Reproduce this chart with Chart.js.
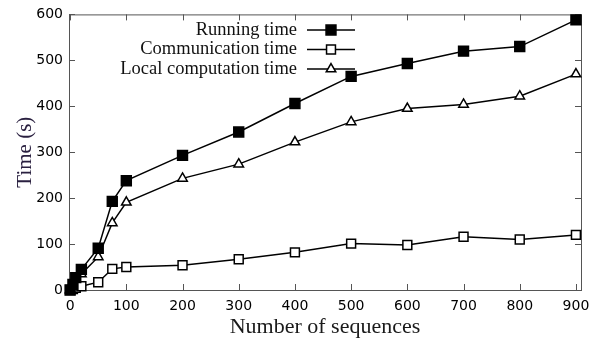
<!DOCTYPE html>
<html>
<head>
<meta charset="utf-8">
<script src="https://cdn.jsdelivr.net/npm/chart.js@4.4.0/dist/chart.umd.min.js"></script>
<style>
  body { margin: 0; background: #fff; }
  #wrap { width: 601px; height: 344px; }
</style>
</head>
<body>
<div id="wrap"><canvas id="timeChart"></canvas></div>
<script>
const sequences = [0, 5, 10, 20, 50, 75, 100, 200, 300, 400, 500, 600, 700, 800, 900];
const runningTime = [0, 12, 27, 45, 91, 193, 238, 293, 344, 406, 465, 493, 520, 530, 588];
const commTime = [0, 2, 5, 8, 17, 46, 50, 54, 67, 82, 101, 98, 116, 110, 120];
const localTime = [0, 8, 20, 35, 72, 146, 191, 243, 274, 322, 366, 395, 404, 422, 470];
const xTicks = [0, 100, 200, 300, 400, 500, 600, 700, 800, 900];
const yTicks = [0, 100, 200, 300, 400, 500, 600];

const pts = ys => sequences.map((x, i) => ({ x: x, y: ys[i] }));

// gnuplot-ish frame with inward ticks + legend with text left of the symbol
const framePlugin = {
  id: 'frame',
  beforeDatasetsDraw(chart) {
    const { ctx, chartArea: a, scales } = chart;
    ctx.save();
    ctx.strokeStyle = '#555';
    ctx.lineWidth = 1;
    ctx.strokeRect(a.left + 0.5, a.top + 0.5, a.right - a.left, a.bottom - a.top);
    ctx.beginPath();
    xTicks.forEach(v => {
      const px = Math.round(scales.x.getPixelForValue(v)) + 0.5;
      ctx.moveTo(px, a.bottom); ctx.lineTo(px, a.bottom - 6);
      ctx.moveTo(px, a.top); ctx.lineTo(px, a.top + 6);
    });
    yTicks.forEach(v => {
      const py = Math.round(scales.y.getPixelForValue(v)) + 0.5;
      ctx.moveTo(a.left, py); ctx.lineTo(a.left + 6, py);
      ctx.moveTo(a.right, py); ctx.lineTo(a.right - 6, py);
    });
    ctx.stroke();
    ctx.restore();
  },
  afterDraw(chart) {
    const { ctx } = chart;
    ctx.save();
    chart.data.datasets.forEach((ds, i) => {
      const y = 30 + i * 19.5;
      ctx.font = '18.5px "Liberation Serif"';
      ctx.fillStyle = '#111';
      ctx.textAlign = 'right';
      ctx.textBaseline = 'middle';
      ctx.fillText(ds.label, 297, y);
      ctx.strokeStyle = '#000';
      ctx.lineWidth = 1.5;
      ctx.beginPath();
      ctx.moveTo(307, y); ctx.lineTo(355, y);
      ctx.stroke();
      ctx.fillStyle = ds.pointBackgroundColor;
      ctx.strokeStyle = '#000';
      ctx.lineWidth = 1.5;
      Chart.helpers.drawPoint(ctx, { pointStyle: ds.pointStyle, radius: ds.pointRadius, borderWidth: 1.5 }, 331, y);
    });
    ctx.restore();
  }
};

new Chart(document.getElementById('timeChart').getContext('2d'), {
  type: 'scatter',
  data: {
    datasets: [{
      label: 'Running time',
      data: pts(runningTime),
      showLine: true,
      borderColor: '#000',
      borderWidth: 1.5,
      pointStyle: 'rect',
      pointRadius: 7,
      pointBackgroundColor: '#000',
      pointBorderColor: '#000',
      pointBorderWidth: 1.5,
      clip: false
    }, {
      label: 'Communication time',
      data: pts(commTime),
      showLine: true,
      borderColor: '#000',
      borderWidth: 1.5,
      pointStyle: 'rect',
      pointRadius: 6.3,
      pointBackgroundColor: '#fff',
      pointBorderColor: '#000',
      pointBorderWidth: 1.5,
      clip: false
    }, {
      label: 'Local computation time',
      data: pts(localTime),
      showLine: true,
      borderColor: '#000',
      borderWidth: 1.5,
      pointStyle: 'triangle',
      pointRadius: 5.5,
      pointBackgroundColor: '#fff',
      pointBorderColor: '#000',
      pointBorderWidth: 1.5,
      clip: false
    }]
  },
  options: {
    responsive: true,
    maintainAspectRatio: false,
    animation: false,
    layout: { padding: { top: 13, right: 20, left: 0, bottom: 0 } },
    plugins: { legend: { display: false }, tooltip: { enabled: false } },
    scales: {
      x: {
        type: 'linear',
        min: -2,
        max: 909,
        afterBuildTicks: s => { s.ticks = xTicks.map(v => ({ value: v })); },
        afterFit: s => { s.height = 54; },
        grid: { display: false, drawTicks: false },
        border: { display: false },
        ticks: { color: '#000', padding: 8, maxRotation: 0, font: { family: 'DejaVu Sans', size: 14 } },
        title: {
          display: true,
          text: 'Number of sequences',
          color: '#1a1a1a',
          padding: { top: 0, bottom: 4 },
          font: { family: 'Liberation Serif', size: 22 }
        }
      },
      y: {
        min: 0,
        max: 600,
        afterBuildTicks: s => { s.ticks = yTicks.map(v => ({ value: v })); },
        afterFit: s => { s.width = 69; },
        grid: { display: false, drawTicks: false },
        border: { display: false },
        ticks: { color: '#000', padding: 6, font: { family: 'DejaVu Sans', size: 14 } },
        title: {
          display: true,
          text: 'Time (s)',
          color: '#2a2040',
          padding: { top: 13, bottom: 0 },
          font: { family: 'Liberation Serif', size: 21 }
        }
      }
    }
  },
  plugins: [framePlugin]
});
</script>
</body>
</html>
